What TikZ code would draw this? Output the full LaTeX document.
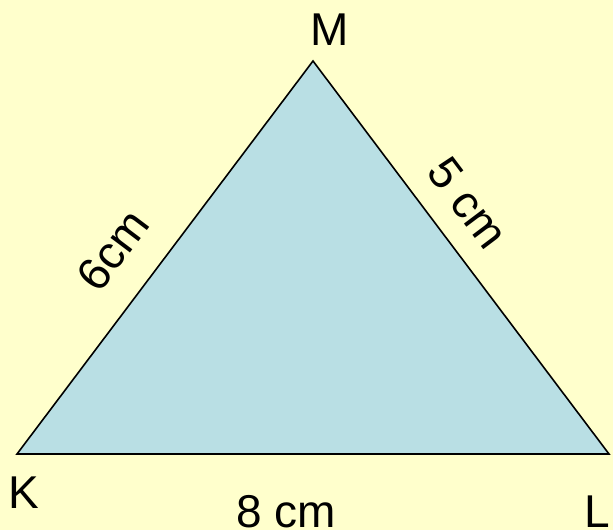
\documentclass[tikz,border=0pt]{standalone}
\usepackage{fontspec}
\setmainfont{Liberation Sans}
\definecolor{bgyellow}{HTML}{FFFFCC}
\definecolor{triblue}{HTML}{B9DFE4}
\begin{document}
\begin{tikzpicture}[x=1pt,y=-1pt,
  lbl/.style={inner sep=0pt,font=\fontsize{46}{50}\selectfont},
  side/.style={draw=black,line width=1.6pt,line join=miter,fill=triblue}]
\fill[bgyellow] (0,0) rectangle (613,530);
\useasboundingbox (0,0) rectangle (613,530);
\coordinate (K) at (17,454);
\coordinate (L) at (609,454);
\coordinate (M) at (313,61);
\filldraw[side] (K) -- (L) -- (M) -- cycle;
\node[lbl,anchor=base] (tM) at (330,45) {M};
\node[lbl,anchor=base west] (tK) at (8,508) {K};
\node[lbl,anchor=base] (tL) at (597,527) {L};
\node[lbl,anchor=base] (t8) at (286,527) {8 cm};
\node[lbl,rotate=53] (t6) at (113,250) {6cm};
\node[lbl,rotate=-53] (t5) at (468,203) {5 cm};
\end{tikzpicture}
\end{document}
